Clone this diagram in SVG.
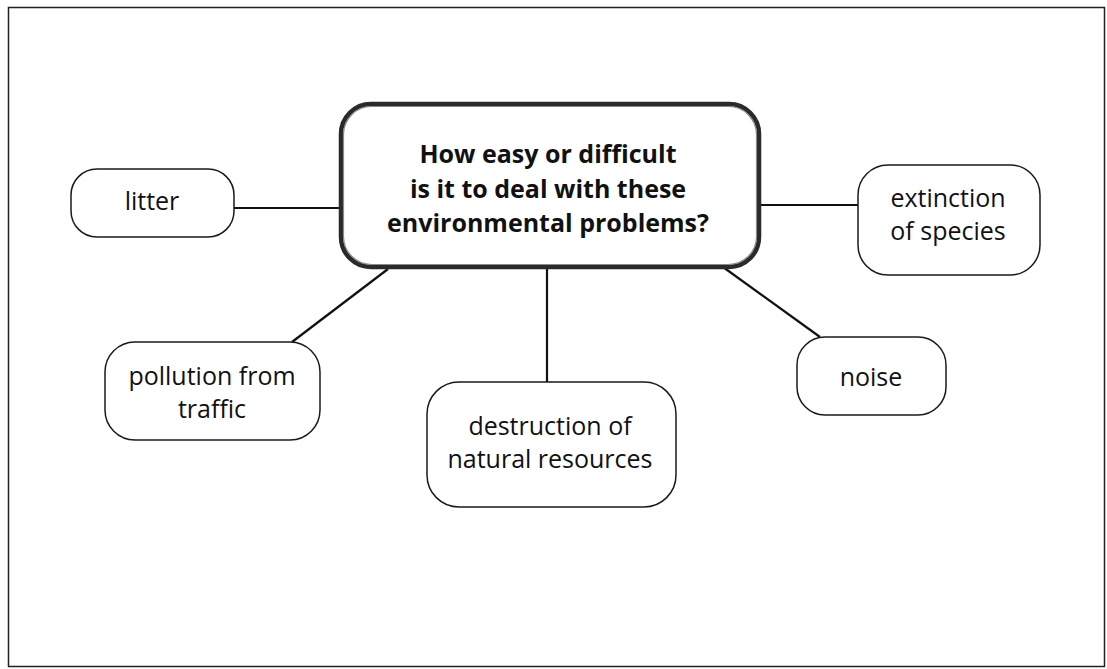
<svg xmlns="http://www.w3.org/2000/svg" width="1107" height="669" viewBox="0 0 1107 669">
<style>
.box{fill:#fff;stroke:#1a1a1a;stroke-width:1.5}
.main{fill:#fff;stroke:#2a2a2a;stroke-width:4.5}
.inner{fill:none;stroke:#8a8a8a;stroke-width:1.2}
.t{font-family:"Open Sans","Liberation Sans",sans-serif;font-size:25px;fill:#111;text-anchor:middle}
.b{font-weight:bold;font-size:25px}
.c{stroke:#111;stroke-width:2.2;fill:none}
</style>
<rect x="0" y="0" width="1107" height="669" fill="#fff"/>
<rect x="8.5" y="7.5" width="1096" height="659" fill="none" stroke="#222" stroke-width="1.5"/>
<g id="connectors">
<line class="c" x1="234" y1="208" x2="341" y2="208"/>
<line class="c" x1="292" y1="342" x2="388" y2="269"/>
<line class="c" x1="547" y1="267" x2="547" y2="382"/>
<line class="c" x1="723" y1="267" x2="820" y2="337"/>
<line class="c" x1="759" y1="205" x2="858" y2="205"/>
</g>
<g id="center">
<rect class="main" x="341" y="104" width="418" height="163" rx="30"/>
<rect class="inner" x="343.5" y="106.5" width="413" height="158" rx="28"/>
<text class="t b" x="548" y="163">How easy or difficult</text>
<text class="t b" x="548" y="198">is it to deal with these</text>
<text class="t b" x="548" y="232">environmental problems?</text>
</g>
<g id="litter">
<rect class="box" x="71" y="169" width="163" height="68" rx="26"/>
<text class="t" x="152" y="210">litter</text>
</g>
<g id="pollution">
<rect class="box" x="105" y="342" width="215" height="98" rx="30"/>
<text class="t" x="212" y="385">pollution from</text>
<text class="t" x="212" y="418">traffic</text>
</g>
<g id="destruction">
<rect class="box" x="427" y="382" width="249" height="125" rx="32"/>
<text class="t" x="550" y="435">destruction of</text>
<text class="t" x="550" y="468">natural resources</text>
</g>
<g id="noise">
<rect class="box" x="797" y="337" width="149" height="78" rx="28"/>
<text class="t" x="871" y="386">noise</text>
</g>
<g id="extinction">
<rect class="box" x="858" y="165" width="182" height="110" rx="30"/>
<text class="t" x="948" y="207">extinction</text>
<text class="t" x="948" y="240">of species</text>
</g>
</svg>
